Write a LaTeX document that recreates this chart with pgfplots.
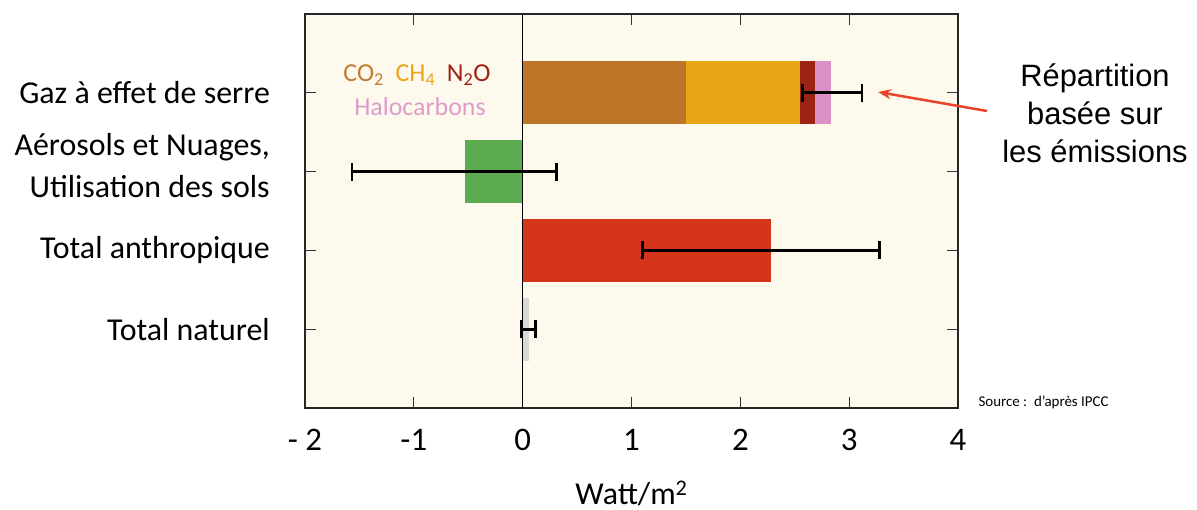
\documentclass[border=0pt]{standalone}
\usepackage{pgfplots}
\pgfplotsset{compat=1.18}
\usepackage{fontspec}
\setmainfont{Carlito}
\newfontfamily\arialf{Liberation Sans}
\usetikzlibrary{arrows.meta}
\definecolor{cream}{HTML}{FDF9EC}
\definecolor{co2}{HTML}{BD7527}
\definecolor{ch4}{HTML}{E9A614}
\definecolor{n2o}{HTML}{9C2414}
\definecolor{halo}{HTML}{DA90C4}
\definecolor{aer}{HTML}{5CAB50}
\definecolor{anth}{HTML}{D43418}
\definecolor{nat}{HTML}{D9D9D9}
\definecolor{co2t}{HTML}{C27C32}
\definecolor{ch4t}{HTML}{EAA71C}
\definecolor{n2ot}{HTML}{9B2315}
\definecolor{halot}{HTML}{DF9CCB}
\definecolor{arrowred}{HTML}{E8432B}
\begin{document}
\begin{tikzpicture}
\path[use as bounding box] (0,0) rectangle (1197bp,510bp);
\begin{axis}[
  at={(305bp,102bp)}, anchor=south west,
  scale only axis, width=653bp, height=394bp,
  xmin=-2, xmax=4, ymin=0, ymax=5,
  axis background/.style={fill=cream},
  axis line style={line width=1.1bp, black!85},
  xtick={-2,-1,0,1,2,3,4},
  xticklabels={- 2,-1,0,1,2,3,4},
  ytick={1,2,3,4},
  yticklabels={Total naturel,Total anthropique,{Aérosols et Nuages,\\Utilisation des sols\rule[-12bp]{0pt}{0pt}},Gaz à effet de serre},
  tick align=inside,
  major tick length=11bp,
  tick style={line width=1bp, black!80},
  xticklabel style={font=\fontsize{33}{36}\selectfont, inner sep=0pt, anchor=north, yshift=-21bp},
  yticklabel style={font=\fontsize{32}{42}\selectfont, align=right, inner sep=0pt, anchor=east, xshift=-35bp},
  xlabel={Watt/m\textsuperscript{2}},
  xlabel style={at={(axis description cs:0.5,0)}, anchor=center, yshift=-85bp, font=\fontsize{32}{36}\selectfont},
  clip=false,
]
% Greenhouse gases: cumulative segment ends (CO2, +CH4, +N2O, +Halocarbons), drawn back to front
\addplot[xbar, bar width=63bp, bar shift=0pt, fill=halo, draw=none] coordinates {(2.83,4)};
\addplot[xbar, bar width=63bp, bar shift=0pt, fill=n2o, draw=none] coordinates {(2.69,4)};
\addplot[xbar, bar width=63bp, bar shift=0pt, fill=ch4, draw=none] coordinates {(2.55,4)};
\addplot[xbar, bar width=63bp, bar shift=0pt, fill=co2, draw=none] coordinates {(1.50,4)};
% Aerosols & land use
\addplot[xbar, bar width=63bp, bar shift=0pt, fill=aer, draw=none] coordinates {(-0.53,3)};
% Total anthropogenic
\addplot[xbar, bar width=63bp, bar shift=0pt, fill=anth, draw=none] coordinates {(2.28,2)};
% Total natural
\addplot[xbar, bar width=63bp, bar shift=0pt, fill=nat, draw=none] coordinates {(0.06,1)};
% zero line
\addplot[black, line width=1.2bp] coordinates {(0,0) (0,5)};
% error bars
\addplot[draw=none, mark=none,
  error bars/.cd, x dir=both, x explicit,
  error bar style={draw=black, line width=3bp},
  error mark options={draw=black, line width=2.5bp, mark size=9bp, rotate=90}]
  coordinates {
  (2.845,4) +- (0.275,0)
  (-0.63,3) +- (0.94,0)
  (2.19,2) +- (1.09,0)
  (0.055,1) +- (0.065,0)
  };
\end{axis}
\node[font=\fontsize{26}{28}\selectfont] at (417bp,435bp)
  {\textcolor{co2t}{CO\textsubscript{2}}\ \ \textcolor{ch4t}{CH\textsubscript{4}}\ \ \textcolor{n2ot}{N\textsubscript{2}O}};
\node[font=\fontsize{26}{28}\selectfont, text=halot] at (420bp,403bp) {Halocarbons};
\draw[arrowred, line width=2.5bp, -{Stealth[length=13bp,width=10bp]}] (987bp,399bp) -- (878bp,418bp);
\node[font=\arialf\fontsize{31}{38}\selectfont, align=center] at (1095bp,397bp) {Répartition\\basée sur\\les émissions};
\node[anchor=west, font=\fontsize{15}{16}\selectfont] at (975bp,108bp) {Source :\ \ d’après IPCC};
\end{tikzpicture}
\end{document}
